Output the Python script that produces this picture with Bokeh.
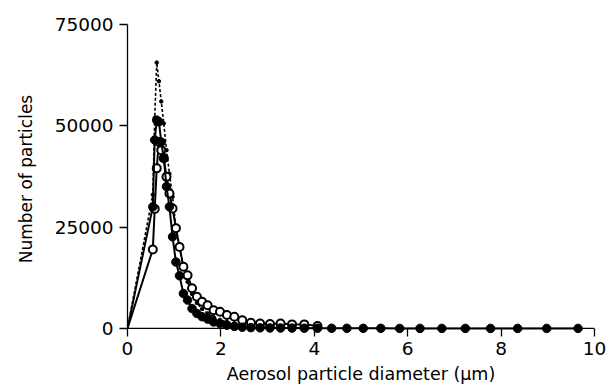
from bokeh.plotting import figure
from bokeh.models import FixedTicker, Span
from bokeh.embed import file_html
from bokeh.resources import INLINE

# APS-style size channels (um)
diam = [0, 0.542, 0.583, 0.626, 0.673, 0.723, 0.777, 0.835, 0.898, 0.965, 1.037,
        1.114, 1.197, 1.286, 1.382, 1.486, 1.596, 1.715, 1.843, 1.981, 2.129,
        2.288, 2.458, 2.642, 2.839, 3.051, 3.278, 3.523, 3.786, 4.068, 4.371,
        4.698, 5.048, 5.425, 5.829, 6.264, 6.732, 7.234, 7.774, 8.354, 8.977, 9.647]

filled_counts = [0, 30000, 46500, 51400, 51000, 46000, 42000, 35000, 30000, 22600, 16400,
                 13000, 8600, 7000, 4900, 3700, 2900, 2300, 1600, 1200, 800,
                 500, 300, 200, 150, 120, 100, 80, 60, 50, 40,
                 30, 20, 20, 10, 10, 10, 10, 5, 5, 5, 5]

open_diam = diam[:30]
open_counts = [0, 19500, 29500, 39500, 46000, 44000, 42000, 37400, 33300, 29600, 24700,
               20100, 15200, 13100, 9900, 7800, 6600, 5700, 4500, 4100, 3300,
               2900, 2000, 1400, 1200, 1100, 1200, 1000, 1000, 600]

dashed_diam = diam[:30]
dashed_counts = [0, 33000, 52000, 65600, 61000, 56000, 50600, 44000, 38200, 32500, 25000,
                 20100, 15500, 11500, 8500, 6300, 4800, 3700, 2800, 2100, 1600,
                 1200, 900, 700, 500, 400, 300, 200, 150, 100]

x_ticks = [0, 2, 4, 6, 8, 10]
y_ticks = [0, 25000, 50000, 75000]

FONT = "DejaVu Sans"

p = figure(width=609, height=389, output_backend="svg", toolbar_location=None,
           x_range=(0, 10), y_range=(-1250, 75000),
           min_border_left=127, min_border_right=15, min_border_top=24, min_border_bottom=56)
p.outline_line_color = None
p.grid.visible = False
p.background_fill_color = "white"

p.add_layout(Span(location=0, dimension="width", line_color="black", line_width=1.3))

p.line(dashed_diam, dashed_counts, line_color="black", line_width=1.6, line_dash="3 2")
p.scatter(dashed_diam[1:], dashed_counts[1:], size=3.5, color="black")

p.line(open_diam, open_counts, line_color="black", line_width=2)
p.scatter(open_diam[1:], open_counts[1:], size=8, fill_color="white", line_color="black", line_width=2)

p.line(diam, filled_counts, line_color="black", line_width=2)
p.scatter(diam[1:], filled_counts[1:], size=8.5, fill_color="black", line_color="black")

for ax in (p.xaxis[0], p.yaxis[0]):
    ax.axis_line_color = "black"
    ax.axis_line_width = 1.3
    ax.major_tick_line_width = 1.3
    ax.minor_tick_line_color = None
    ax.major_label_text_font = FONT
    ax.major_label_text_font_size = "18.5px"
    ax.major_label_text_color = "black"
    ax.axis_label_text_font = FONT
    ax.axis_label_text_font_style = "normal"
    ax.axis_label_text_color = "black"

p.xaxis.axis_line_color = None
p.xaxis.major_tick_in = 5
p.xaxis.major_tick_out = 3
p.yaxis.major_tick_in = 0
p.yaxis.major_tick_out = 8

p.xaxis.ticker = FixedTicker(ticks=x_ticks)
p.yaxis.ticker = FixedTicker(ticks=y_ticks)
p.yaxis.bounds = (0, 75000)
p.xaxis.axis_label = "Aerosol particle diameter (\u03bcm)"
p.yaxis.axis_label = "Number of particles"
p.xaxis.axis_label_text_font_size = "17.5px"
p.yaxis.axis_label_text_font_size = "17px"
p.xaxis.major_label_standoff = 5
p.yaxis.major_label_standoff = 6
p.xaxis.axis_label_standoff = 6
p.yaxis.axis_label_standoff = 16

open("out.html", "w").write(file_html(p, INLINE))
